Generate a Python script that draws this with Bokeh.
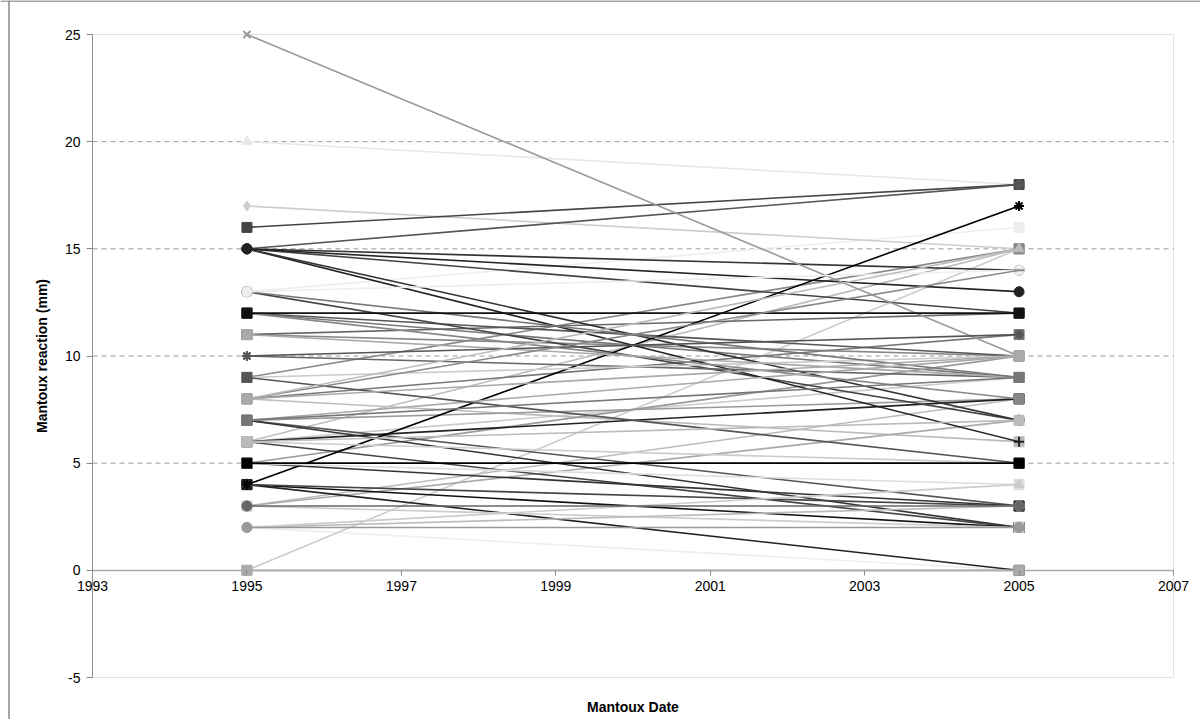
from bokeh.plotting import figure
from bokeh.models import Range1d, FixedTicker, Label, BoxAnnotation, Span
from bokeh.embed import file_html
from bokeh.resources import INLINE

# ---- data ----
years = [1995, 2005]
x_ticks = [1993, 1995, 1997, 1999, 2001, 2003, 2005, 2007]
y_ticks = [-5, 0, 5, 10, 15, 20, 25]

reaction_1995 = [2, 20, 13, 17, 0, 6, 3, 6, 8, 12, 3, 7, 5, 11, 9, 11, 8,
                 7, 7, 6, 6, 5, 4, 4, 4, 12, 13, 15, 15, 15, 15, 16, 15, 15,
                 25, 4, 10, 9, 12, 11, 13, 3, 2, 5, 6, 7,
                 12, 10, 13, 9, 8, 6, 7, 8, 8, 2, 3, 5, 2, 0]
reaction_2005 = [0, 18, 16, 15, 15, 15, 8, 9, 6, 9, 7, 8, 10, 10, 15, 12, 11,
                 3, 2, 8, 2, 3, 2, 0, 3, 10, 7, 6, 7, 12, 14, 18, 18, 13,
                 10, 17, 9, 10, 8, 9, 9, 2, 3, 4, 5, 10,
                 12, 11, 14, 5, 14, 7, 9, 15, 10, 4, 3, 5, 2, 0]

series_gray = ["#eeeeee", "#e8e8e8", "#eeeeee", "#cccccc", "#cccccc", "#bbbbbb",
               "#bbbbbb", "#cccccc", "#bbbbbb", "#777777", "#aaaaaa", "#999999",
               "#999999", "#888888", "#888888", "#666666", "#777777", "#555555",
               "#333333", "#222222", "#444444", "#333333", "#111111", "#222222",
               "#444444", "#555555", "#444444", "#222222", "#333333", "#444444",
               "#333333", "#444444", "#555555", "#222222", "#999999", "#000000",
               "#666666", "#cccccc", "#888888", "#aaaaaa", "#777777", "#cccccc",
               "#bbbbbb", "#dddddd", "#cccccc", "#aaaaaa",
               "#111111", "#555555", "#eeeeee", "#555555", "#888888", "#bbbbbb",
               "#777777", "#bbbbbb", "#aaaaaa", "#cccccc", "#666666", "#000000",
               "#999999", "#aaaaaa"]
series_marker = ["circle", "triangle", "square", "diamond", "square", "square",
                 "circle", "square", "square_dot", "square", "circle_cross", "square",
                 "square_x", "square_dot", "square_dot", "square_dot", "square_dot", "square",
                 "square", "square", "square", "square_x", "square", "square",
                 "triangle", "square", "circle", "cross", "circle", "circle",
                 "circle", "square", "circle", "circle", "x", "asterisk",
                 "x", "square", "square", "square_dot", "circle", "square",
                 "circle", "square", "square", "square",
                 "square_cross", "asterisk", "circle", "square_dot", "dash", "square_dot",
                 "square", "triangle", "square_dot", "triangle", "circle_cross", "square_x",
                 "circle", "square"]

font = "Liberation Sans"

# ---- layout: the frame fills the canvas; the plot area is drawn inside it ----
W, H = 1200, 719
area_left, area_right, area_top, area_bottom = 92, 1173, 34, 677
x0, x1 = x_ticks[0], x_ticks[-1]
y0, y1 = y_ticks[0], y_ticks[-1]
xs = (x1 - x0) / (area_right - area_left)
ys = (y1 - y0) / (area_bottom - area_top)
x_start = x0 - area_left * xs
y_end = y1 + area_top * ys
x_range = Range1d(x_start, x1 + (W - area_right) * xs)
y_range = Range1d(y0 - (H - area_bottom) * ys, y_end)

p = figure(width=W, height=H, output_backend="svg", toolbar_location=None,
           x_range=x_range, y_range=y_range,
           min_border_left=0, min_border_right=0, min_border_top=0,
           min_border_bottom=0)
p.background_fill_color = "white"
p.outline_line_color = None
p.xgrid.grid_line_color = None
p.ygrid.grid_line_color = None

# outer chart border (left and top edges visible in the picture)
p.add_layout(Span(location=x_start + 8.5 * xs, dimension="height",
                  line_color="#888888", line_width=1.5))
p.add_layout(Span(location=y_end - 0.5 * ys, dimension="width",
                  line_color="#888888", line_width=1.5))

# dashed horizontal gridlines inside the plot area only
grid_levels = [t for t in y_ticks if y0 < t < y1 and t != 0]
p.segment(x0=[x0] * len(grid_levels), y0=grid_levels,
          x1=[x1] * len(grid_levels), y1=grid_levels,
          line_color="#999999", line_width=1, line_dash="5 4")

# plot-area border
p.add_layout(BoxAnnotation(left=x0, right=x1, bottom=y0, top=y1,
                           fill_color=None, line_color="#999999", line_width=1))

# y axis at the left edge of the plot area
p.yaxis.fixed_location = x0
p.yaxis.bounds = (y0, y1)
p.yaxis.ticker = FixedTicker(ticks=y_ticks)
p.yaxis.major_label_overrides = {t: str(t) for t in y_ticks}
p.yaxis.axis_label = "Mantoux reaction (mm)"
p.yaxis.axis_label_text_font = font
p.yaxis.axis_label_text_font_style = "bold"
p.yaxis.axis_label_text_font_size = "14px"
p.yaxis.axis_label_text_color = "black"
p.yaxis.axis_label_standoff = 12
p.yaxis.major_label_text_font = font
p.yaxis.major_label_text_font_size = "14px"
p.yaxis.major_label_text_color = "black"
p.yaxis.axis_line_color = "#888888"
p.yaxis.major_tick_line_color = "#888888"
p.yaxis.major_tick_in = 0
p.yaxis.major_tick_out = 6
p.yaxis.minor_tick_line_color = None
p.yaxis.major_label_standoff = 6

# x axis crossing at y = 0
p.xaxis.fixed_location = 0
p.xaxis.bounds = (x0, x1)
p.xaxis.ticker = FixedTicker(ticks=x_ticks)
p.xaxis.major_label_text_font = font
p.xaxis.major_label_text_font_size = "14px"
p.xaxis.major_label_text_color = "black"
p.xaxis.major_label_standoff = 6
p.xaxis.axis_line_color = "#aaaaaa"
p.xaxis.axis_line_width = 1.5
p.xaxis.major_tick_line_color = "#888888"
p.xaxis.major_tick_in = 0
p.xaxis.major_tick_out = 5
p.xaxis.minor_tick_line_color = None

# x axis title under the plot area
p.add_layout(Label(x=(x0 + x1) / 2, y=y0, text="Mantoux Date", text_font=font,
                   text_font_size="14px", text_font_style="bold", text_color="black",
                   text_align="center", text_baseline="top", y_offset=-21))

for a, b, c, m in zip(reaction_1995, reaction_2005, series_gray, series_marker):
    p.line(years, [a, b], line_color=c, line_width=1.6)
    lw = 2 if m in ("x", "asterisk", "cross", "dash") else 1
    p.scatter(years, [a, b], marker=m, size=10, fill_color=c, line_color=c, line_width=lw)

open("out.html", "w").write(file_html(p, INLINE))
